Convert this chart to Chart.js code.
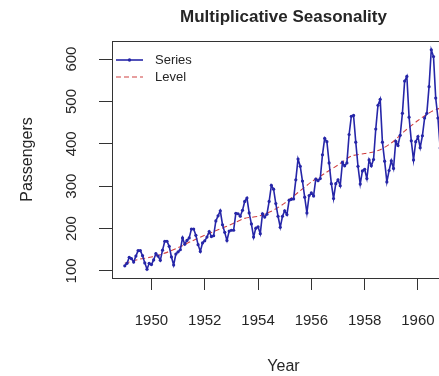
<!DOCTYPE html>
<html>
<head>
<meta charset="utf-8">
<script src="https://cdn.jsdelivr.net/npm/chart.js@4"></script>
<style>
  body { margin: 0; overflow: hidden; background: #fff; }
</style>
</head>
<body>
<canvas id="lineChart" width="470" height="376"></canvas>
<script>
// monthly passengers, Jan 1949 .. Dec 1960
var startYear = 1949;
var passengers = [
    112, 118, 132, 129, 121, 135, 148, 148, 136, 119, 104, 118,
    115, 126, 141, 135, 125, 149, 170, 170, 158, 133, 114, 140,
    145, 150, 178, 163, 172, 178, 199, 199, 184, 162, 146, 166,
    171, 180, 193, 181, 183, 218, 230, 242, 209, 191, 172, 194,
    196, 196, 236, 235, 229, 243, 264, 272, 237, 211, 180, 201,
    204, 188, 235, 227, 234, 264, 302, 293, 259, 229, 203, 229,
    242, 233, 267, 269, 270, 315, 364, 347, 312, 274, 237, 278,
    284, 277, 317, 313, 318, 374, 413, 405, 355, 306, 271, 306,
    315, 301, 356, 348, 355, 422, 465, 467, 404, 347, 305, 336,
    340, 318, 362, 348, 363, 435, 491, 505, 404, 359, 310, 337,
    360, 342, 406, 396, 420, 472, 548, 559, 463, 407, 362, 405,
    417, 391, 419, 461, 472, 535, 622, 606, 508, 461, 390, 432
];
// level
var levelYears = [1949.0, 1949.5, 1950.0, 1950.5, 1951.0, 1951.5, 1952.0, 1952.5,
                  1953.0, 1953.5, 1954.0, 1954.5, 1955.0, 1955.5, 1956.0, 1956.5,
                  1957.0, 1957.5, 1958.0, 1958.5, 1959.0, 1959.5, 1960.0, 1960.5, 1960.917];
var levelValues = [118, 127, 133, 142, 155, 170, 184, 197,
                   210, 224, 229, 241, 260, 285, 310, 330,
                   350, 371, 377, 384, 402, 430, 455, 476, 486];
var xTicks = [1950, 1952, 1954, 1956, 1958, 1960];
var yTicks = [100, 200, 300, 400, 500, 600];

var seriesPts = passengers.map(function (v, i) { return { x: startYear + i / 12, y: v }; });
var levelPts = levelValues.map(function (v, i) { return { x: levelYears[i], y: v }; });

var BLUE = '#2626a8';
var RED = '#d04040';
var INK = '#262626';

var decor = {
    id: 'decor',
    afterDraw: function (chart) {
        var c = chart.ctx, a = chart.chartArea;
        c.save();
        // box
        c.strokeStyle = '#333';
        c.lineWidth = 1;
        c.strokeRect(a.left + 0.5, a.top + 0.5, a.right - a.left, a.bottom - a.top);
        // title
        c.fillStyle = INK;
        c.textAlign = 'center';
        c.textBaseline = 'middle';
        c.font = 'bold 17px "Liberation Sans", Arial, sans-serif';
        var cx = (a.left + a.right) / 2;
        c.fillText('Multiplicative Seasonality', cx, 17);
        c.font = '16px "Liberation Sans", Arial, sans-serif';
        c.fillText('Year', cx, 367);
        c.translate(28, (a.top + a.bottom) / 2);
        c.rotate(-Math.PI / 2);
        c.fillText('Passengers', 0, 0);
        c.restore();

        // legend
        c.save();
        c.font = '13px "Liberation Sans", Arial, sans-serif';
        c.textBaseline = 'middle';
        c.fillStyle = INK;
        c.lineWidth = 1.6;
        c.strokeStyle = BLUE;
        c.beginPath(); c.moveTo(116, 60); c.lineTo(143, 60); c.stroke();
        c.fillStyle = BLUE;
        c.beginPath(); c.arc(129.5, 60, 1.7, 0, Math.PI * 2); c.fill();
        c.strokeStyle = RED;
        c.lineWidth = 1.1;
        c.setLineDash([5, 3]);
        c.beginPath(); c.moveTo(116, 77); c.lineTo(143, 77); c.stroke();
        c.setLineDash([]);
        c.fillStyle = INK;
        c.fillText('Series', 155, 60);
        c.fillText('Level', 155, 77);
        c.restore();
    }
};

var ctx = document.getElementById('lineChart').getContext('2d');
var myChart = new Chart(ctx, {
    type: 'line',
    data: {
        datasets: [{
            label: 'Series',
            data: seriesPts,
            borderColor: BLUE,
            backgroundColor: BLUE,
            borderWidth: 1.6,
            pointRadius: 1.6,
            pointBorderWidth: 0,
            tension: 0,
            fill: false
        }, {
            label: 'Level',
            data: levelPts,
            borderColor: RED,
            borderWidth: 1.1,
            borderDash: [5, 3],
            pointRadius: 0,
            tension: 0.3,
            fill: false
        }]
    },
    options: {
        responsive: false,
        animation: false,
        layout: { padding: { top: 41, right: 15, left: 0, bottom: 0 } },
        plugins: {
            legend: { display: false },
            tooltip: { enabled: false }
        },
        scales: {
            x: {
                type: 'linear',
                min: 1948.52,
                max: 1961.39,
                afterBuildTicks: function (s) { s.ticks = xTicks.map(function (v) { return { value: v }; }); },
                afterFit: function (s) { s.height = 98; },
                grid: { drawOnChartArea: false, tickLength: 12, tickColor: '#333' },
                border: { color: '#333' },
                ticks: {
                    padding: 22,
                    color: INK,
                    maxRotation: 0,
                    font: { family: '"Liberation Sans", Arial, sans-serif', size: 15 },
                    callback: function (v) { return String(v); }
                }
            },
            y: {
                min: 83.3,
                max: 642.7,
                afterBuildTicks: function (s) { s.ticks = yTicks.map(function (v) { return { value: v }; }); },
                afterFit: function (s) { s.width = 112; },
                grid: { drawOnChartArea: false, tickLength: 13, tickColor: '#333' },
                border: { color: '#333' },
                ticks: {
                    padding: 15,
                    color: INK,
                    minRotation: 90,
                    maxRotation: 90,
                    crossAlign: 'center',
                    font: { family: '"Liberation Sans", Arial, sans-serif', size: 15 },
                    callback: function (v) { return String(v); }
                }
            }
        }
    },
    plugins: [decor]
});
</script>
</body>
</html>
